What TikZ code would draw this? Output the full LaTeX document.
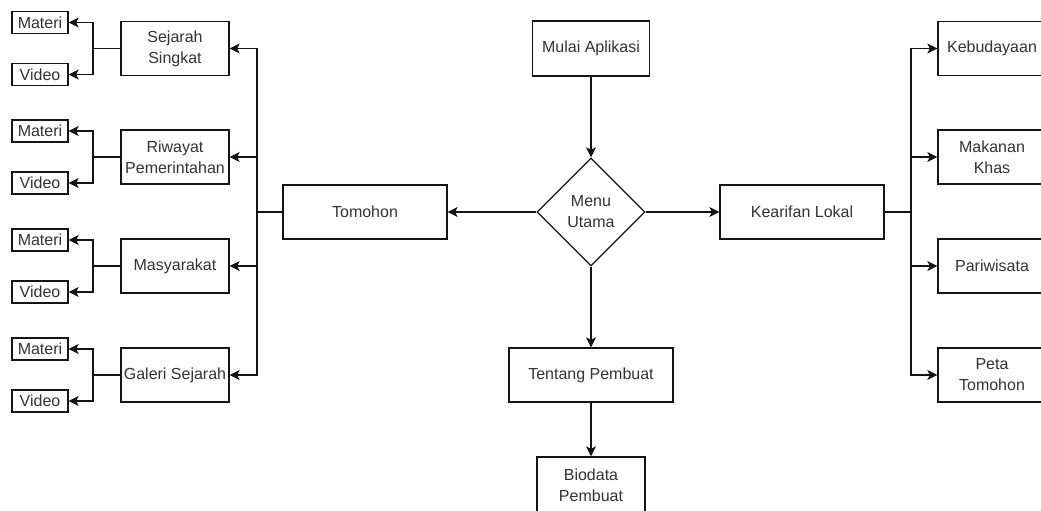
\documentclass[tikz,border=0pt]{standalone}
\usepackage{fontspec}
\setmainfont{Liberation Sans}
\usetikzlibrary{shapes.geometric,arrows.meta}
\definecolor{txt}{HTML}{333333}
\definecolor{ln}{HTML}{141414}
\tikzset{
  box/.style={draw=ln, line width=1.3pt, rectangle, align=center, inner sep=1pt,
    text=txt, font=\fontsize{16}{21}\selectfont},
  midbox/.style={box, minimum width=108pt, minimum height=54pt},
  widebox/.style={box, minimum width=164pt, minimum height=54pt},
  smallbox/.style={box, minimum width=56pt, minimum height=22pt},
  decision/.style={draw=ln, line width=1.3pt, diamond, aspect=1, align=center,
    minimum width=108pt, minimum height=108pt, inner sep=0pt, text=txt,
    font=\fontsize{16}{21}\selectfont},
  arr/.style={draw=ln, line width=1.3pt, -{Stealth[length=10pt,width=10pt,inset=2.5pt]}},
  conn/.style={draw=ln, line width=1.3pt}
}
\begin{document}
\begin{tikzpicture}[x=1pt,y=-1pt]
\useasboundingbox (0,0) rectangle (1041,511);
\clip (0,0) rectangle (1041,511);
\fill[white] (0,0) rectangle (1041,511);

% centre column
\node[box, minimum width=117pt, minimum height=55pt] (mulai) at (591,48.5) {Mulai Aplikasi};
\node[decision] (menu) at (591,212) {Menu\\Utama};
\node[widebox] (tentang) at (591,375) {Tentang Pembuat};
\node[midbox, minimum height=56pt] (biodata) at (591,485) {Biodata\\Pembuat};
\node[widebox] (tomohon) at (365,212) {Tomohon};
\node[widebox] (kearifan) at (802,212) {Kearifan Lokal};

% left column
\node[midbox] (m1) at (175,48.5) {Sejarah\\Singkat};
\node[midbox] (m2) at (175,157) {Riwayat\\Pemerintahan};
\node[midbox] (m3) at (175,266) {Masyarakat};
\node[midbox] (m4) at (175,375) {Galeri Sejarah};

\node[smallbox] (mat1) at (40,22.5) {Materi};
\node[smallbox] (vid1) at (40,74.5) {Video};
\node[smallbox] (mat2) at (40,131) {Materi};
\node[smallbox] (vid2) at (40,183) {Video};
\node[smallbox] (mat3) at (40,240) {Materi};
\node[smallbox] (vid3) at (40,292) {Video};
\node[smallbox] (mat4) at (40,349) {Materi};
\node[smallbox] (vid4) at (40,401) {Video};

% right column
\node[midbox] (r1) at (992,48.5) {Kebudayaan};
\node[midbox] (r2) at (992,157) {Makanan\\Khas};
\node[midbox] (r3) at (992,266) {Pariwisata};
\node[midbox] (r4) at (992,375) {Peta\\Tomohon};

% bus coordinates
\coordinate (busL) at (257,212);
\coordinate (busR) at (911,212);
\coordinate (b1) at (93,48.5);
\coordinate (b2) at (93,157);
\coordinate (b3) at (93,266);
\coordinate (b4) at (93,375);

% centre connectors
\draw[arr] (mulai.south) -- (menu.north);
\draw[arr] (menu.south) -- (tentang.north);
\draw[arr] (tentang.south) -- (biodata.north);
\draw[arr] (menu.west) -- (tomohon.east);
\draw[arr] (menu.east) -- (kearifan.west);

% left bus
\draw[arr] (tomohon.west) -- (busL) |- (m1.east);
\draw[arr] (tomohon.west) -- (busL) |- (m2.east);
\draw[arr] (tomohon.west) -- (busL) |- (m3.east);
\draw[arr] (tomohon.west) -- (busL) |- (m4.east);

% right bus
\draw[arr] (kearifan.east) -- (busR) |- (r1.west);
\draw[arr] (kearifan.east) -- (busR) |- (r2.west);
\draw[arr] (kearifan.east) -- (busR) |- (r3.west);
\draw[arr] (kearifan.east) -- (busR) |- (r4.west);

% sub branches
\draw[arr] (m1.west) -- (b1) |- (mat1.east);
\draw[arr] (m1.west) -- (b1) |- (vid1.east);
\draw[arr] (m2.west) -- (b2) |- (mat2.east);
\draw[arr] (m2.west) -- (b2) |- (vid2.east);
\draw[arr] (m3.west) -- (b3) |- (mat3.east);
\draw[arr] (m3.west) -- (b3) |- (vid3.east);
\draw[arr] (m4.west) -- (b4) |- (mat4.east);
\draw[arr] (m4.west) -- (b4) |- (vid4.east);
\end{tikzpicture}
\end{document}
